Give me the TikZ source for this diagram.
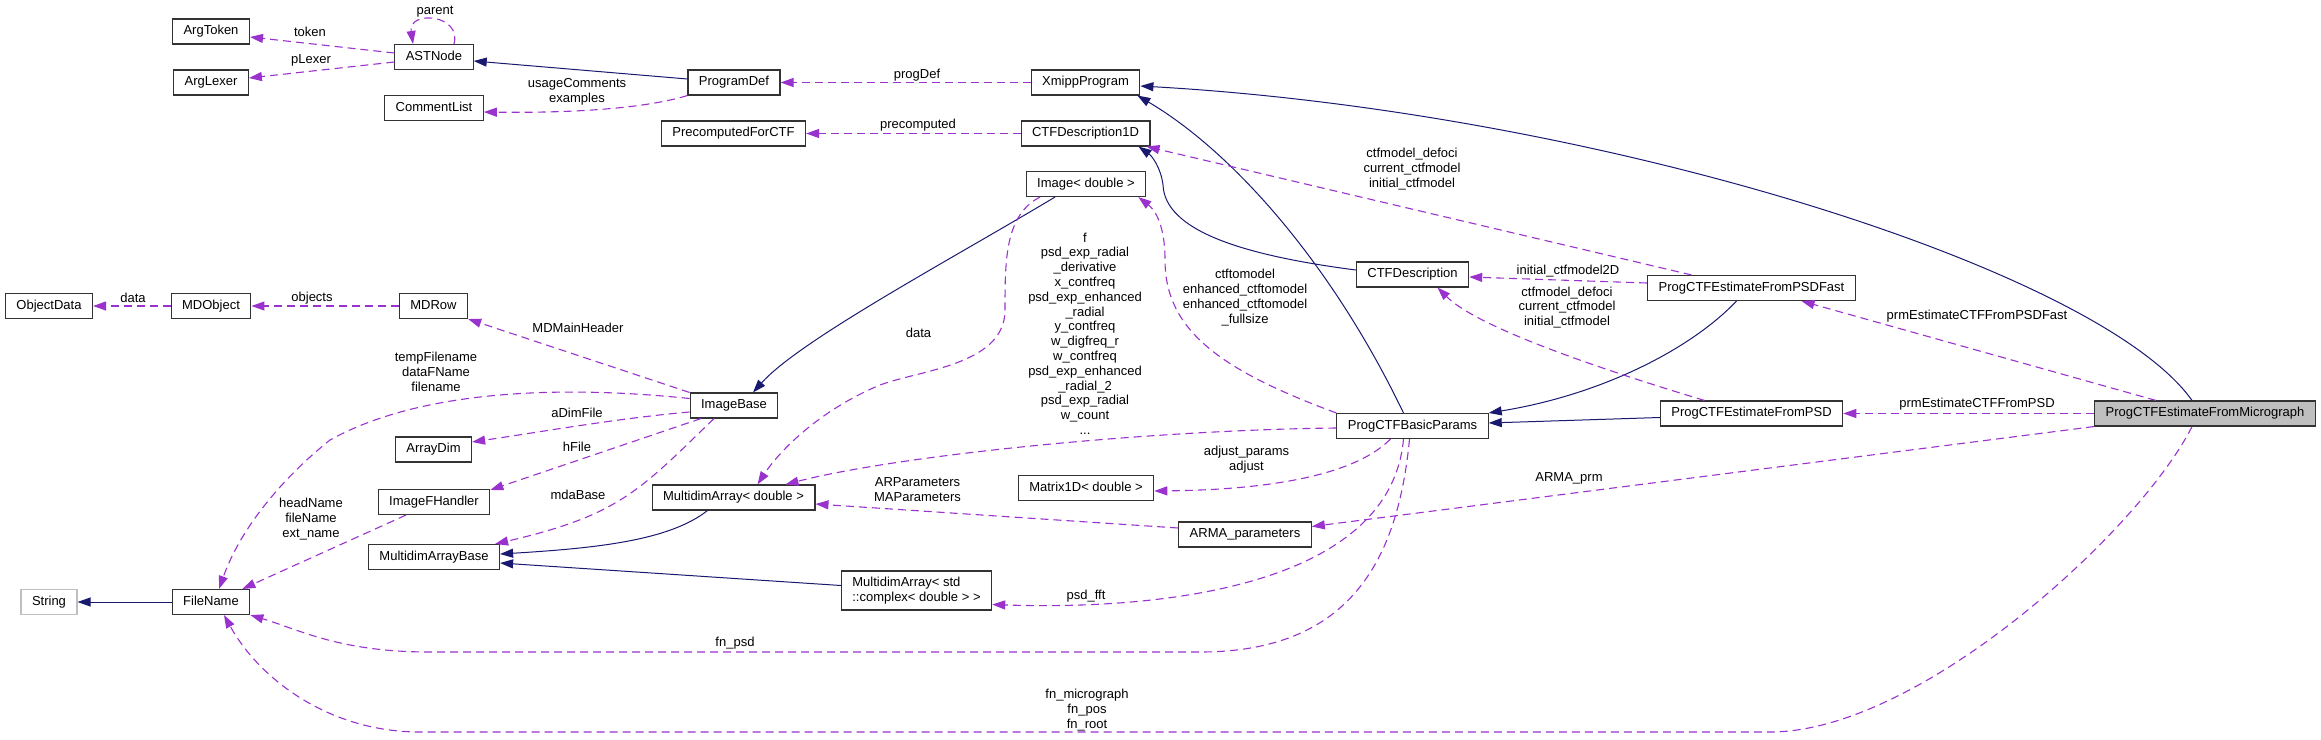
\documentclass[tikz,border=0pt]{standalone}
\usepackage{fontspec}
\setmainfont{Liberation Sans}
\usetikzlibrary{arrows.meta}
\definecolor{inhblue}{HTML}{191970}
\definecolor{usepurple}{HTML}{9A32CD}
\definecolor{curgray}{HTML}{BFBFBF}

\begin{document}
\begin{tikzpicture}[x=1pt, y=-1pt, >={Triangle[length=13pt,width=9pt]},
    every node/.style={font=\fontsize{13}{14.8}\selectfont},
    cls/.style={draw=black!80, line width=1.1pt, fill=white, inner xsep=11pt, inner ysep=0pt,
      minimum height=25pt, text height=9.4pt, text depth=2.8pt},
    cls2/.style={draw=black!80, line width=1.1pt, fill=white, inner xsep=11pt, inner ysep=6pt, align=left},
    inherit/.style={->, draw=inhblue, line width=1pt},
    member/.style={->, draw=usepurple, line width=1.1pt, dash pattern=on 8pt off 5pt},
    lbl/.style={align=center, inner sep=0pt}]
    \useasboundingbox (0,0) rectangle (2321,739);

    % Classes, column by column
    \node[cls] (ObjectData) at (49,306) {ObjectData};
    \node[cls, draw=curgray] (String) at (49,602) {String};
    \node[cls] (ArgToken) at (211,31.5) {ArgToken};
    \node[cls] (ArgLexer) at (211,82.5) {ArgLexer};
    \node[cls] (MDObject) at (211,306) {MDObject};
    \node[cls] (FileName) at (211,602) {FileName};
    \node[cls] (ASTNode) at (434,57) {ASTNode};
    \node[cls] (CommentList) at (434,108) {CommentList};
    \node[cls] (MDRow) at (433.5,306) {MDRow};
    \node[cls] (ArrayDim) at (433.5,449.5) {ArrayDim};
    \node[cls] (ImageFHandler) at (434,502) {ImageFHandler};
    \node[cls] (MABase) at (434,557) {MultidimArrayBase};
    \node[cls] (ProgramDef) at (734,82.5) {ProgramDef};
    \node[cls] (PrecomputedForCTF) at (733.5,133.5) {PrecomputedForCTF};
    \node[cls] (ImageBase) at (734,405.5) {ImageBase};
    \node[cls] (MADouble) at (733.5,497.5) {MultidimArray< double >};
    \node[cls2] (MAComplex) at (916.5,590.5) {MultidimArray< std\\::complex< double > >};
    \node[cls] (XmippProgram) at (1085.5,82.5) {XmippProgram};
    \node[cls] (CTFDescription1D) at (1085.5,133.5) {CTFDescription1D};
    \node[cls] (ImageDouble) at (1086,184) {Image< double >};
    \node[cls] (Matrix1D) at (1086,488) {Matrix1D< double >};
    \node[cls] (ARMA) at (1245,534.5) {ARMA\_parameters};
    \node[cls] (CTFDescription) at (1412.5,274.5) {CTFDescription};
    \node[cls] (BasicParams) at (1412.5,426) {ProgCTFBasicParams};
    \node[cls] (PSDFast) at (1751.5,288) {ProgCTFEstimateFromPSDFast};
    \node[cls] (PSD) at (1751.5,413.5) {ProgCTFEstimateFromPSD};
    \node[cls, fill=curgray] (Micrograph) at (2205,413.5) {ProgCTFEstimateFromMicrograph};

    % Inheritance
    \draw[inherit] ([yshift=3.5pt]ProgramDef.west) -- ([yshift=-4pt]ASTNode.east);
    \draw[inherit] ([xshift=-9pt]BasicParams.north) .. controls (1330,260) and (1230,150) .. ([xshift=-3pt]XmippProgram.south east);
    \draw[inherit] ([yshift=4.5pt]CTFDescription.west) .. controls (1240,255) and (1165,230) .. (1163,185)
      .. controls (1161,168) and (1152,156) .. ([xshift=-12pt]CTFDescription1D.south east);
    \draw[inherit] ([xshift=-31pt]ImageDouble.south) .. controls (950,260) and (800,340) .. ([xshift=19pt]ImageBase.north);
    \draw[inherit] ([xshift=-26pt]MADouble.south) .. controls (670,540) and (600,548) .. ([yshift=3pt]MABase.east);
    \draw[inherit] ([yshift=5pt]MAComplex.west) -- ([yshift=-6pt]MABase.east);
    \draw[inherit] (FileName) -- (String);
    \draw[inherit] ([xshift=-15pt]PSDFast.south) .. controls (1690,350) and (1600,395) .. (BasicParams.north east);
    \draw[inherit] ([yshift=-4pt]PSD.west) -- ([yshift=3pt]BasicParams.east);
    \draw[inherit] ([xshift=-13pt]Micrograph.north) .. controls (2100,270) and (1600,112) .. ([yshift=-3.5pt]XmippProgram.east);

    % Members
    \draw[member] ([xshift=20pt]ASTNode.north) .. controls (462,14) and (408,10) .. ([xshift=-21pt]ASTNode.north);
    \draw[member] ([yshift=4pt]ASTNode.west) -- ([yshift=-5.5pt]ArgToken.east);
    \draw[member] ([yshift=-5pt]ASTNode.west) -- ([yshift=4.5pt]ArgLexer.east);
    \draw[member] (ProgramDef.south west) .. controls (640,110) and (560,113) .. ([yshift=-4pt]CommentList.east);
    \draw[member] (XmippProgram) -- (ProgramDef);
    \draw[member] (CTFDescription1D) -- (PrecomputedForCTF);
    \draw[member] (MDObject) -- (ObjectData);
    \draw[member] (MDRow) -- (MDObject);
    \draw[member] (ImageBase.north west) -- (MDRow.south east);
    \draw[member] ([yshift=7pt]ImageBase.west) .. controls (560,385) and (420,390) .. (330,440)
      .. controls (280,480) and (240,530) .. ([xshift=8pt]FileName.north);
    \draw[member] ([yshift=-6.5pt]ImageBase.west) .. controls (620,418) and (540,432) .. ([yshift=7.5pt]ArrayDim.east);
    \draw[member] ([xshift=-33pt]ImageBase.south) -- ([yshift=-1pt]ImageFHandler.north east);
    \draw[member] ([xshift=-20pt]ImageBase.south) .. controls (640,490) and (620,515) .. ([xshift=-5pt]MABase.north east);
    \draw[member] ([xshift=-28pt]ImageFHandler.south) -- ([xshift=-8pt]FileName.north east);
    \draw[member] ([xshift=-46pt]ImageDouble.south) .. controls (1005,215) and (1005,260) .. (1005,310)
      .. controls (1005,365) and (920,370) .. (880,385) .. controls (820,410) and (780,450) .. ([xshift=24pt]MADouble.north);
    \draw[member] (BasicParams.north west) .. controls (1220,370) and (1165,330) .. (1165,260)
      .. controls (1165,225) and (1155,210) .. ([xshift=-8pt]ImageDouble.south east);
    \draw[member] ([yshift=-2pt]BasicParams.west) .. controls (1150,430) and (900,455) .. ([xshift=-30pt]MADouble.north east);
    \draw[member] ([xshift=-22pt]BasicParams.south) .. controls (1350,480) and (1250,490) .. ([yshift=-3pt]Matrix1D.east);
    \draw[member] ([yshift=6.5pt]ARMA.west) -- ([yshift=-6.5pt]MADouble.east);
    \draw[member] ([xshift=-9pt]BasicParams.south) .. controls (1390,590) and (1150,610) .. ([yshift=-14pt]MAComplex.east);
    \draw[member] ([xshift=-3pt]BasicParams.south) .. controls (1398,560) and (1350,652) .. (1200,652) -- (430,652)
      .. controls (340,652) and (300,630) .. (FileName.south east);
    \draw[member] ([yshift=5pt]PSDFast.west) -- ([yshift=-2.5pt]CTFDescription.east);
    \draw[member] ([xshift=-60pt]PSDFast.north) -- ([xshift=-4pt]CTFDescription1D.south east);
    \draw[member] ([xshift=-47pt]PSD.north) .. controls (1620,375) and (1480,330) .. ([xshift=25pt]CTFDescription.south);
    \draw[member] ([xshift=-49pt]Micrograph.north) -- ([xshift=50pt]PSDFast.south);
    \draw[member] (Micrograph) -- (PSD);
    \draw[member] (Micrograph.south west) -- ([yshift=8pt]ARMA.east);
    \draw[member] ([xshift=-13pt]Micrograph.south) .. controls (2140,530) and (1920,732) .. (1770,732) -- (420,732)
      .. controls (330,732) and (260,680) .. ([xshift=13pt]FileName.south);

    % Edge labels
    \node[lbl] (lParent) at (435,12) {parent};
    \node[lbl] (lToken) at (310,32) {token};
    \node[lbl] (lLexer) at (311,60) {pLexer};
    \node[lbl] (lComments) at (577,92) {usageComments\\examples};
    \node[lbl] (lProgDef) at (917,75) {progDef};
    \node[lbl] (lPrecomp) at (918,125) {precomputed};
    \node[lbl] (lModel1D) at (1412,169) {ctfmodel\_defoci\\current\_ctfmodel\\initial\_ctfmodel};
    \node[lbl] (lData) at (133,298) {data};
    \node[lbl] (lObjects) at (312,298) {objects};
    \node[lbl] (lHeader) at (578,328) {MDMainHeader};
    \node[lbl] (lFilename) at (436,372) {tempFilename\\dataFName\\filename};
    \node[lbl] (lDimFile) at (577,413) {aDimFile};
    \node[lbl] (lHFile) at (577,447) {hFile};
    \node[lbl] (lImgData) at (918.5,333) {data};
    \node[lbl] (lArrays) at (1085,333.5) {f\\psd\_exp\_radial\\\_derivative\\x\_contfreq\\psd\_exp\_enhanced\\\_radial\\y\_contfreq\\w\_digfreq\_r\\w\_contfreq\\psd\_exp\_enhanced\\\_radial\_2\\psd\_exp\_radial\\w\_count\\...};
    \node[lbl] (lModels) at (1245,297.5) {ctftomodel\\enhanced\_ctftomodel\\enhanced\_ctftomodel\\\_fullsize};
    \node[lbl] (lAdjust) at (1246.5,459.5) {adjust\_params\\adjust};
    \node[lbl] (lARMAPar) at (917.5,489.5) {ARParameters\\MAParameters};
    \node[lbl] (lNames) at (311,519) {headName\\fileName\\ext\_name};
    \node[lbl] (lMdaBase) at (578,495) {mdaBase};
    \node[lbl] (lPsdName) at (735,643) {fn\_psd};
    \node[lbl] (lPsdFft) at (1086,596) {psd\_fft};
    \node[lbl] (lMicNames) at (1087,710) {fn\_micrograph\\fn\_pos\\fn\_root};
    \node[lbl] (lModel2D) at (1568,271) {initial\_ctfmodel2D};
    \node[lbl] (lModelPSD) at (1567,307.5) {ctfmodel\_defoci\\current\_ctfmodel\\initial\_ctfmodel};
    \node[lbl] (lPrmFast) at (1977,316) {prmEstimateCTFFromPSDFast};
    \node[lbl] (lPrmPSD) at (1977,404) {prmEstimateCTFFromPSD};
    \node[lbl] (lArmaPrm) at (1569,478) {ARMA\_prm};
\end{tikzpicture}
\end{document}
